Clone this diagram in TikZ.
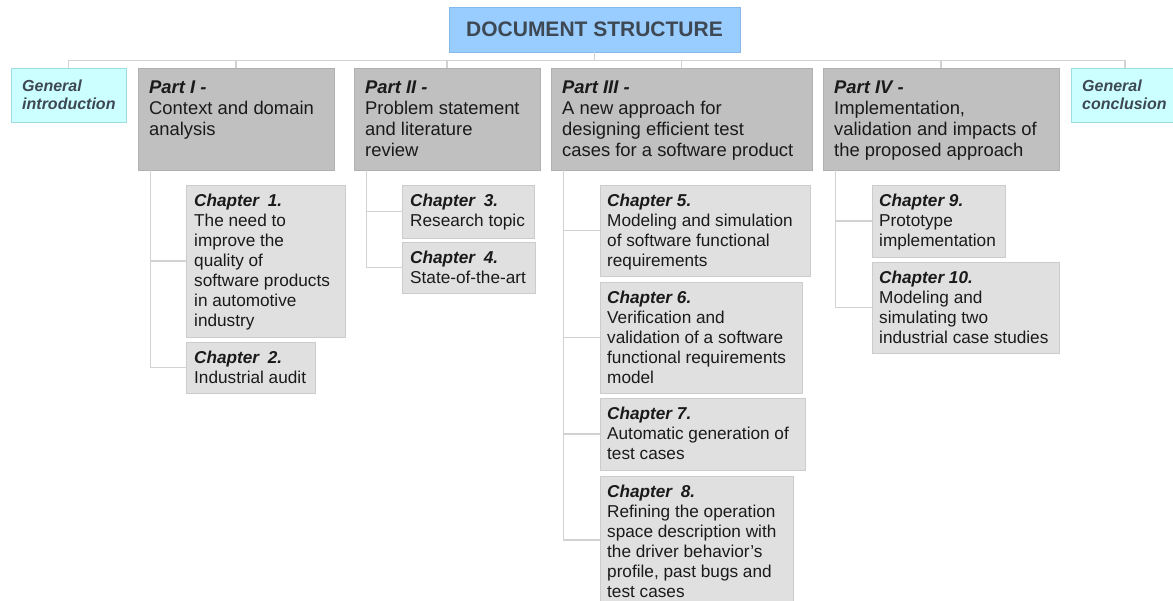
\documentclass[tikz,border=0pt]{standalone}
\usepackage{fontspec}
\setmainfont{Liberation Sans}
\definecolor{titlefill}{HTML}{99CCFF}
\definecolor{titledraw}{HTML}{85B8EB}
\definecolor{titletext}{HTML}{3D4852}
\definecolor{partfill}{HTML}{C0C0C0}
\definecolor{partdraw}{HTML}{B0B0B0}
\definecolor{chapfill}{HTML}{E0E0E0}
\definecolor{chapdraw}{HTML}{CCCCCC}
\definecolor{endfill}{HTML}{CCFFFF}
\definecolor{enddraw}{HTML}{9FDDE3}
\definecolor{linkcol}{HTML}{D2D2D2}
\definecolor{txtcol}{HTML}{1A1A1A}
\tikzset{
  x=1pt, y=-1pt,
  boxbase/.style={anchor=north west, inner sep=0pt, outer sep=0pt, line width=0.8pt},
  titlebox/.style={draw=titledraw, fill=titlefill, inner sep=0pt, line width=0.8pt,
    text=titletext, font=\fontsize{21}{24}\selectfont\bfseries},
  partbox/.style={boxbase, draw=partdraw, fill=partfill},
  chapbox/.style={boxbase, draw=chapdraw, fill=chapfill},
  endbox/.style={boxbase, draw=enddraw, fill=endfill},
  parttxt/.style={anchor=north west, inner sep=0pt, align=left, text=txtcol,
    font=\fontsize{18.4}{21}\selectfont},
  chaptxt/.style={anchor=north west, inner sep=0pt, align=left, text=txtcol,
    font=\fontsize{17.2}{20}\selectfont},
  endtxt/.style={anchor=north west, inner sep=0pt, align=left, text=titletext,
    font=\fontsize{16}{18}\selectfont\bfseries\itshape},
  link/.style={draw=linkcol, line width=1.1pt},
}
\newcommand{\pt}[1]{\textbf{\textit{#1}}}
\begin{document}
\begin{tikzpicture}
\useasboundingbox (0,0) rectangle (1173,600);
\clip (0,0) rectangle (1173,600);

% title
\node[titlebox, minimum width=291pt, minimum height=45pt] (title) at (594.5,29.5) {DOCUMENT STRUCTURE};

% top level boxes
\node[endbox, minimum width=115pt, minimum height=54pt] (gi) at (11,68) {};
\node[endbox, minimum width=108pt, minimum height=54pt] (gc) at (1071,68) {};
\node[partbox, minimum width=196pt, minimum height=102pt] (p1) at (138,68) {};
\node[partbox, minimum width=186pt, minimum height=102pt] (p2) at (354,68) {};
\node[partbox, minimum width=261pt, minimum height=102pt] (p3) at (551,68) {};
\node[partbox, minimum width=236pt, minimum height=102pt] (p4) at (823,68) {};

% chapter boxes
\node[chapbox, minimum width=159pt, minimum height=152pt] (c1) at (186,185) {};
\node[chapbox, minimum width=129pt, minimum height=51pt] (c2) at (186,342) {};
\node[chapbox, minimum width=132pt, minimum height=53pt] (c3) at (402,185) {};
\node[chapbox, minimum width=133pt, minimum height=51pt] (c4) at (402,242) {};
\node[chapbox, minimum width=210pt, minimum height=91pt] (c5) at (600,185) {};
\node[chapbox, minimum width=202pt, minimum height=111pt] (c6) at (600,282) {};
\node[chapbox, minimum width=205pt, minimum height=72pt] (c7) at (600,398) {};
\node[chapbox, minimum width=193pt, minimum height=128pt] (c8) at (600,476) {};
\node[chapbox, minimum width=133pt, minimum height=72pt] (c9) at (872,185) {};
\node[chapbox, minimum width=187pt, minimum height=91pt] (c10) at (872,262) {};

% connectors from title
\foreach \n in {gi,p1,p2,p3,p4,gc}
  \draw[link] (title.south) -- ++(0,8) -| (\n.north);

% connectors to chapters
\foreach \p/\c in {p1/c1,p1/c2,p2/c3,p2/c4,p3/c5,p3/c6,p3/c7,p3/c8,p4/c9,p4/c10}
  \draw[link] ([xshift=12.5pt]\p.south west) |- (\c.west);

% texts
\node[endtxt] (git) at ([shift={(11,12)}]gi.north west) {General\\introduction};
\node[endtxt] (gct) at ([shift={(11,12)}]gc.north west) {General\\conclusion};

\node[parttxt] (p1t) at ([shift={(11,12.6)}]p1.north west) {\pt{Part I -}\\Context and domain\\analysis};
\node[parttxt] (p2t) at ([shift={(11,12.6)}]p2.north west) {\pt{Part II -}\\Problem statement\\and literature\\review};
\node[parttxt] (p3t) at ([shift={(11,12.6)}]p3.north west) {\pt{Part III -}\\A new approach for\\designing efficient test\\cases for a software product};
\node[parttxt] (p4t) at ([shift={(11,12.6)}]p4.north west) {\pt{Part IV -}\\Implementation,\\validation and impacts of\\the proposed approach};

\node[chaptxt] (c1t) at ([shift={(8,9)}]c1.north west) {\pt{Chapter\hspace{0.5em}1.}\\The need to\\improve the\\quality of\\software products\\in automotive\\industry};
\node[chaptxt] (c2t) at ([shift={(8,9)}]c2.north west) {\pt{Chapter\hspace{0.5em}2.}\\Industrial audit};
\node[chaptxt] (c3t) at ([shift={(8,9)}]c3.north west) {\pt{Chapter\hspace{0.5em}3.}\\Research topic};
\node[chaptxt] (c4t) at ([shift={(8,9)}]c4.north west) {\pt{Chapter\hspace{0.5em}4.}\\State-of-the-art};
\node[chaptxt] (c5t) at ([shift={(7,9)}]c5.north west) {\pt{Chapter 5.}\\Modeling and simulation\\of software functional\\requirements};
\node[chaptxt] (c6t) at ([shift={(7,9)}]c6.north west) {\pt{Chapter 6.}\\Verification and\\validation of a software\\functional requirements\\model};
\node[chaptxt] (c7t) at ([shift={(7,9)}]c7.north west) {\pt{Chapter 7.}\\Automatic generation of\\test cases};
\node[chaptxt] (c8t) at ([shift={(7,9)}]c8.north west) {\pt{Chapter\hspace{0.5em}8.}\\Refining the operation\\space description with\\the driver behavior’s\\profile, past bugs and\\test cases};
\node[chaptxt] (c9t) at ([shift={(7,9)}]c9.north west) {\pt{Chapter 9.}\\Prototype\\implementation};
\node[chaptxt] (c10t) at ([shift={(7,9)}]c10.north west) {\pt{Chapter 10.}\\Modeling and\\simulating two\\industrial case studies};
\end{tikzpicture}
\end{document}
